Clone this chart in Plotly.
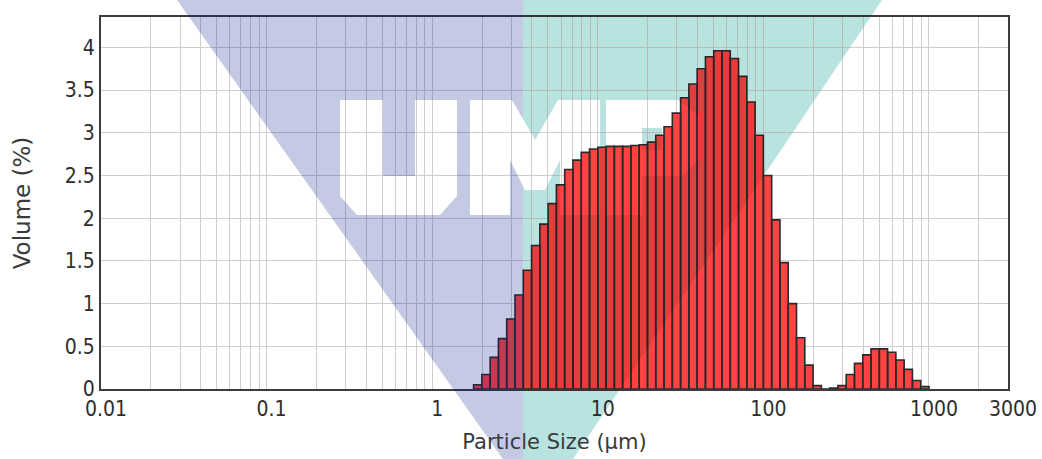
import plotly.graph_objects as go

# ---- data -------------------------------------------------------------
# size-class edges (um) of the measured bins
size_edges_um = [1.778, 1.995, 2.239, 2.512, 2.818, 3.162, 3.548, 3.981, 4.467, 5.012,
                 5.623, 6.310, 7.079, 7.943, 8.913, 10.000, 11.220, 12.589, 14.125, 15.849,
                 17.783, 19.953, 22.387, 25.119, 28.184, 31.623, 35.481, 39.811, 44.668, 50.119,
                 56.234, 63.096, 70.795, 79.433, 89.125, 100.000, 112.202, 125.893, 141.254, 158.489,
                 177.828, 199.526, 223.872, 251.189, 281.838, 316.228, 354.813, 398.107, 446.684, 501.187,
                 562.341, 630.957, 707.946, 794.328, 891.251, 1000.000]

volume_pct = [0.05, 0.17, 0.37, 0.59, 0.82, 1.10, 1.39, 1.68, 1.93, 2.17,
              2.39, 2.57, 2.68, 2.77, 2.81, 2.83, 2.84, 2.84, 2.84, 2.85,
              2.86, 2.89, 2.97, 3.07, 3.23, 3.41, 3.57, 3.75, 3.89, 3.96,
              3.96, 3.87, 3.66, 3.36, 2.97, 2.50, 1.98, 1.48, 1.00, 0.60,
              0.28, 0.04, 0.00, 0.01, 0.04, 0.17, 0.30, 0.40, 0.47, 0.47,
              0.43, 0.34, 0.23, 0.10, 0.03]

x_label_vals = [0.01, 0.1, 1, 10, 100, 1000, 3000]
x_label_text = ["0.01", "0.1", "1", "10", "100", "1000", "3000"]
x_grid_vals = [0.01, 0.02, 0.03, 0.04, 0.05, 0.06, 0.07, 0.08, 0.09,
               0.1, 0.2, 0.3, 0.4, 0.5, 0.6, 0.7, 0.8, 0.9,
               1, 2, 3, 4, 5, 6, 7, 8, 9,
               10, 20, 30, 40, 50, 60, 70, 80, 90,
               100, 200, 300, 400, 500, 600, 700, 800, 900,
               1000, 2000, 3000]
y_tick_vals = [0, 0.5, 1, 1.5, 2, 2.5, 3, 3.5, 4]
y_tick_text = ["0", "0.5", "1", "1.5", "2", "2.5", "3", "3.5", "4"]

# ---- figure -----------------------------------------------------------
W, H = 1042, 459
ML, MR, MT, MB = 101, 34, 17, 70
TICKFONT = "DejaVu Sans Condensed, DejaVu Sans, sans-serif"
TITLEFONT = "DejaVu Sans, sans-serif"

xs, ys = [], []
for i, v in enumerate(volume_pct):
    lo, hi = size_edges_um[i], size_edges_um[i + 1]
    xs += [lo, lo, hi, hi, lo, None]
    ys += [0, v, v, 0, 0, None]

fig = go.Figure()
fig.add_trace(go.Scatter(
    x=xs, y=ys, mode="lines", fill="toself", fillcolor="#ff4343",
    line=dict(color="#2a2a2a", width=1.6), hoverinfo="skip", showlegend=False))

x_text = [x_label_text[x_label_vals.index(v)] if v in x_label_vals else "" for v in x_grid_vals]

fig.update_xaxes(
    type="log", range=[-2, 3.4771], tickmode="array", automargin=False,
    tickvals=x_grid_vals, ticktext=x_text, ticklabelshift=5,
    showgrid=True, gridcolor="#cecece", gridwidth=1.2,
    showline=True, mirror=True, linecolor="#3c3c3c", linewidth=2,
    ticks="", tickfont=dict(family=TICKFONT, size=21, color="#2e2e2e"),
    title=dict(text="Particle Size (µm)", font=dict(family=TITLEFONT, size=21, color="#3a3a3a"),
               standoff=14),
    zeroline=False)
fig.update_yaxes(
    range=[0, 4.355], tickmode="array", tickvals=y_tick_vals, ticktext=y_tick_text,
    automargin=False,
    showgrid=True, gridcolor="#cecece", gridwidth=1.2,
    showline=True, mirror=True, linecolor="#3c3c3c", linewidth=2,
    ticks="", tickfont=dict(family=TICKFONT, size=21, color="#2e2e2e"),
    title=dict(text="Volume (%)", font=dict(family=TITLEFONT, size=23, color="#3a3a3a"),
               standoff=28),
    zeroline=False)

# ---- watermark (decoration only, pixel geometry -> paper coordinates) --
PW, PH = W - ML - MR, H - MT - MB


def pp(px, py):
    return (px - ML) / PW, (H - MB - py) / PH


def clip(subject, region):
    """Sutherland-Hodgman clip of a polygon by a convex region."""
    area = sum(region[i][0] * region[(i + 1) % len(region)][1] -
               region[(i + 1) % len(region)][0] * region[i][1] for i in range(len(region)))
    sgn = 1 if area > 0 else -1

    def inside(p, a, b):
        return sgn * ((b[0] - a[0]) * (p[1] - a[1]) - (b[1] - a[1]) * (p[0] - a[0])) >= 0

    def inter(p, q, a, b):
        x1, y1 = p; x2, y2 = q; x3, y3 = a; x4, y4 = b
        d = (x1 - x2) * (y3 - y4) - (y1 - y2) * (x3 - x4)
        t = ((x1 - x3) * (y3 - y4) - (y1 - y3) * (x3 - x4)) / d
        return (x1 + t * (x2 - x1), y1 + t * (y2 - y1))

    out = list(subject)
    for i in range(len(region)):
        a, b = region[i], region[(i + 1) % len(region)]
        inp, out = out, []
        if not inp:
            break
        prev = inp[-1]
        for cur in inp:
            if inside(cur, a, b):
                if not inside(prev, a, b):
                    out.append(inter(prev, cur, a, b))
                out.append(cur)
            elif inside(prev, a, b):
                out.append(inter(prev, cur, a, b))
            prev = cur
    return out


def sub(points):
    pts = [pp(*p) for p in points]
    return "M " + " L ".join(f"{x:.4f},{y:.4f}" for x, y in pts) + " Z"


letters = [
    # U
    [(340, 100), (383, 100), (383, 176), (415, 176), (415, 100), (457, 100),
     (457, 196), (440, 215), (357, 215), (340, 196)],
    # M
    [(470, 215), (470, 100), (512, 100), (535, 140), (558, 100), (600, 100),
     (600, 215), (560, 215), (560, 160), (545, 190), (525, 190), (510, 160), (510, 215)],
    # P (outer)
    [(606, 215), (606, 100), (678, 100), (699, 116), (699, 160), (682, 176),
     (642, 176), (642, 215)],
    # P (counter)
    [(642, 128), (662, 128), (662, 150), (642, 150)],
]

lavender = [(177, 0), (523, 0), (523, 459), (503, 459)]
teal = [(523, 0), (882, 0), (573, 459), (523, 459)]


def region_path(region):
    p = sub(region)
    for L in letters:
        c = clip(L, region)
        if len(c) >= 3:
            p += " " + sub(c)
    return p


lav_path = region_path(lavender)
teal_path = region_path(teal)

fig.add_shape(type="path", xref="paper", yref="paper", layer="above", path=lav_path,
              fillcolor="rgba(3,25,138,0.23)", line=dict(width=0), fillrule="evenodd")
fig.add_shape(type="path", xref="paper", yref="paper", layer="below", path=teal_path,
              fillcolor="rgb(206,253,251)", line=dict(width=0), fillrule="evenodd")
fig.add_shape(type="path", xref="paper", yref="paper", layer="above", path=teal_path,
              fillcolor="rgba(0,0,0,0.10)", line=dict(width=0), fillrule="evenodd")

fig.update_layout(
    width=W, height=H, margin=dict(l=ML, r=MR, t=MT, b=MB),
    paper_bgcolor="white", plot_bgcolor="rgba(0,0,0,0)", showlegend=False)

fig.write_html("out.html")
